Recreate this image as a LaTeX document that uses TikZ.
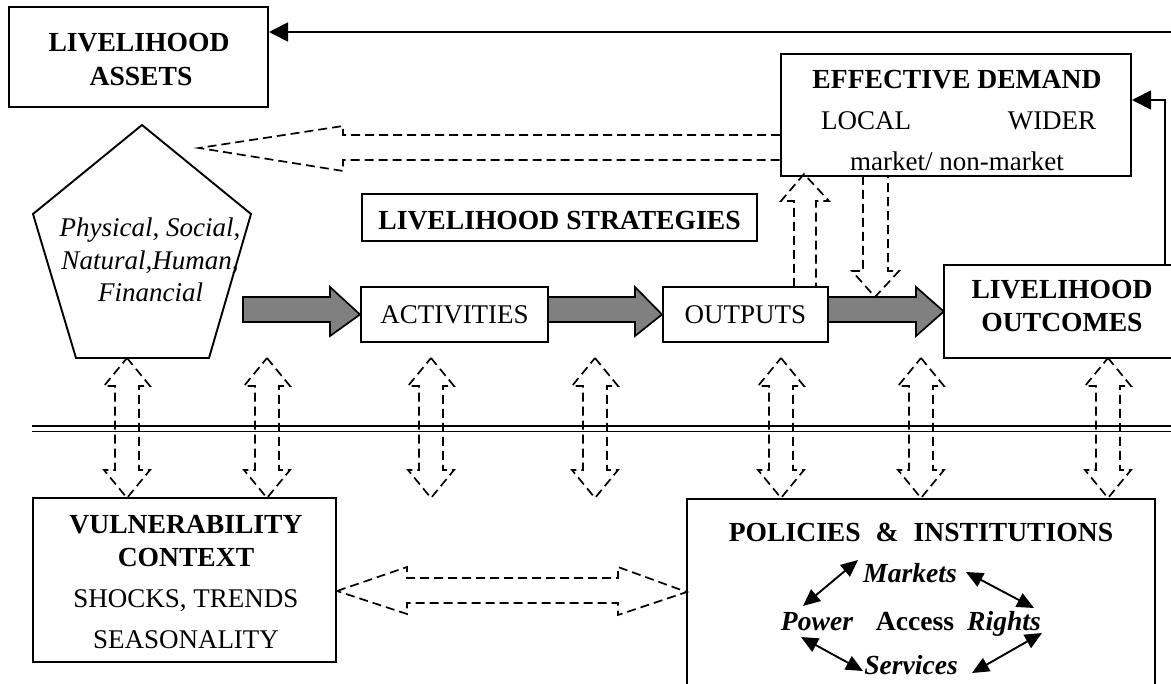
\documentclass[tikz,border=0pt]{standalone}
\usepackage{fontspec}
\setmainfont{Liberation Serif}
\usetikzlibrary{arrows.meta}
\newcommand\vdarr[1]{\draw[dsh] (#1,358) -- (#1+23,386) -- (#1+12,386) -- (#1+12,470) -- (#1+23,470) -- (#1,498) -- (#1-23,470) -- (#1-12,470) -- (#1-12,386) -- (#1-23,386) -- cycle;}
\begin{document}
\begin{tikzpicture}[x=1pt,y=-1pt,
  box/.style={draw, line width=2pt, rectangle, inner sep=0pt},
  nobox/.style={rectangle, inner sep=0pt},
  dsh/.style={draw, line width=1.7pt, dash pattern=on 9pt off 5pt, line join=miter},
  grar/.style={draw, fill=gray, line width=1.7pt, line join=miter},
  txt/.style={font=\fontsize{27}{32}\selectfont, inner sep=0pt, anchor=base},
  btxt/.style={font=\fontsize{27.6}{32}\selectfont\bfseries, inner sep=0pt, anchor=base},
  solidarr/.style={line width=1.7pt, -{Triangle[length=19pt,width=19pt]}},
  smallarr/.style={line width=1.9pt, {Triangle[length=17pt,width=15pt]}-{Triangle[length=17pt,width=15pt]}}]
\useasboundingbox (0,0) rectangle (1171,684);
\fill[white] (0,0) rectangle (1171,684);

% boxes
\node[box, minimum width=259pt, minimum height=100pt] (assets) at (138.5,57) {};
\node[box, minimum width=350pt, minimum height=122pt] (demand) at (956,115) {};
\node[box, minimum width=395pt, minimum height=47pt] (strat) at (559.5,217.5) {};
\node[box, minimum width=187pt, minimum height=55pt] (act) at (454.5,314.5) {};
\node[box, minimum width=165pt, minimum height=55pt] (outp) at (745.5,314.5) {};
\node[nobox, minimum width=227pt, minimum height=93pt] (outc) at (1057.5,311.5) {};
\draw[line width=2pt] (outc.north east) -- (outc.north west) -- (outc.south west) -- (outc.south east);
\node[box, minimum width=303pt, minimum height=164pt] (vul) at (184.5,580) {};
\node[nobox, minimum width=468pt, minimum height=185pt] (pol) at (921,591.5) {};
\draw[line width=2pt] (pol.south west) -- (pol.north west) -- (pol.north east) -- (pol.south east);

% pentagon
\draw[line width=1.9pt, line join=miter] (142,125) -- (251,214) -- (209,358) -- (76,358) -- (33,214) -- cycle;

% texts
\node[btxt] (t1) at (139,52) {LIVELIHOOD};
\node[btxt] (t2) at (141,86) {ASSETS};
\node[btxt] (t3) at (957,89) {EFFECTIVE DEMAND};
\node[txt] (t4) at (866,130) {LOCAL};
\node[txt] (t5) at (1052,130) {WIDER};
\node[txt] (t6) at (957,171) {market/ non-market};
\node[txt] (t7) at (150,237) {\itshape Physical, Social,};
\node[txt] (t8) at (150,270) {\itshape Natural,Human,};
\node[txt] (t9) at (150.5,302) {\itshape Financial};
\node[btxt] (t10) at (559.5,230) {LIVELIHOOD STRATEGIES};
\node[txt] (t11) at (454.5,324) {ACTIVITIES};
\node[txt] (t12) at (745.5,324) {OUTPUTS};
\node[btxt] (t13) at (1062,299) {LIVELIHOOD};
\node[btxt] (t14) at (1062,332) {OUTCOMES};
\node[btxt] (t15) at (186,534) {VULNERABILITY};
\node[btxt] (t16) at (186,567) {CONTEXT};
\node[txt] (t17) at (186,608) {SHOCKS, TRENDS};
\node[txt] (t18) at (186,648) {SEASONALITY};
\node[btxt] (t19) at (921,542) {POLICIES\hspace{15pt}\&\hspace{15pt}INSTITUTIONS};
\node[btxt] (mk) at (910,583) {\itshape Markets};
\node[btxt] (pw) at (817,630) {\itshape Power};
\node[btxt] (ac) at (915,630) {Access};
\node[btxt] (rg) at (1004,630) {\itshape Rights};
\node[btxt] (sv) at (911,674) {\itshape Services};

% solid feedback arrows
\coordinate (tr) at (1171,32);
\draw[solidarr] (tr) -- (tr -| assets.east);
\coordinate (rc) at (1165,100);
\draw[solidarr] (rc |- outc.north) -- (rc) -- (rc -| demand.east);

% grey arrows
\draw[grar] (243,297) -- (330,297) -- (330,287) -- (act.west) -- (330,336) -- (330,322) -- (243,322) -- cycle;
\draw[grar] (act.east |- 0,297) -- (635,297) -- (635,287) -- (outp.west) -- (635,336) -- (635,322) -- (act.east |- 0,322);
\draw[grar] (outp.east |- 0,297) -- (916,297) -- (916,287) -- (outc.west) -- (916,336) -- (916,322) -- (outp.east |- 0,322);

% big dashed arrow to assets
\draw[dsh] (demand.west |- 0,135) -- (343,135) -- (343,126) -- (199,148) -- (343,171) -- (343,160) -- (demand.west |- 0,160);

% dashed arrow outputs -> demand
\draw[dsh] (794,287) -- (794,201) -- (781,201) -- (804,174) -- (829,201) -- (816,201) -- (816,287);
% dashed arrow demand -> outcomes arrow
\draw[dsh] (863,176) -- (863,271) -- (852,271) -- (875,297) -- (899,271) -- (888,271) -- (888,176);

% double line
\draw[line width=1.5pt] (32,426) -- (1171,426);
\draw[line width=1.5pt] (32,431.5) -- (1171,431.5);

% vertical double arrows
\vdarr{127}
\vdarr{267}
\vdarr{431}
\vdarr{595}
\vdarr{781}
\vdarr{921}
\vdarr{1108}

% horizontal double arrow
\draw[dsh] (vul.east |- 0,591) -- (407,567) -- (407,578) -- (618,578) -- (618,567) -- (pol.west |- 0,592) -- (618,615) -- (618,603) -- (407,603) -- (407,614) -- cycle;

% small arrows
\draw[smallarr] (803,606) -- (858,560);
\draw[smallarr] (966,572) -- (1034,608);
\draw[smallarr] (801,637) -- (863,671);
\draw[smallarr] (1042,633) -- (972,673);
\end{tikzpicture}
\end{document}
